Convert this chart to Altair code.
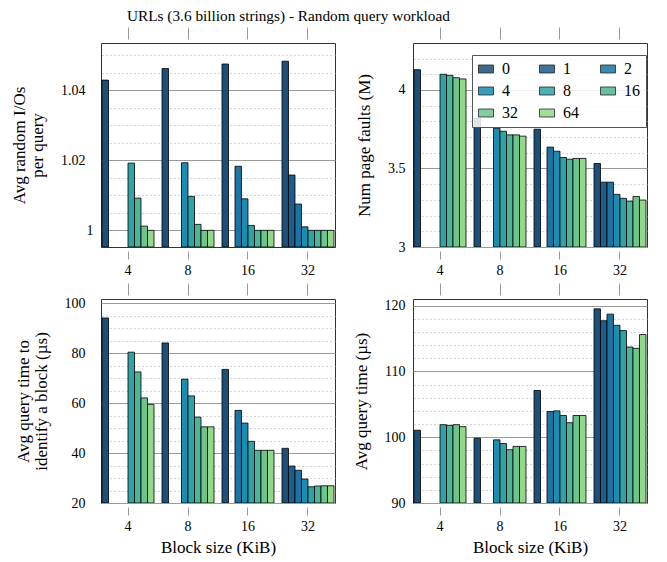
import altair as alt
import pandas as pd

FONT = "Liberation Serif"

block_sizes = ["4", "8", "16", "32"]
series = ["0", "1", "2", "4", "8", "16", "32", "64"]
colors = ["#1d4f79", "#1e5d8b", "#1b74a2", "#1a8db2",
          "#31a2a5", "#4fb597", "#6dc58e", "#91d88a"]

# one row per block size, one entry per series (None = not measured)
random_ios = [
    [1.0429, None, None, None, 1.0192, 1.0092, 1.0012, 1.0],
    [1.0462, None, None, 1.0193, 1.0097, 1.0017, 1.0, 1.0],
    [1.0475, None, 1.0183, 1.0090, 1.0014, 1.0, 1.0, 1.0],
    [1.0483, 1.0158, 1.0075, 1.0010, 1.0, 1.0, 1.0, 1.0],
]
page_faults = [
    [4.129, None, None, None, 4.100, 4.093, 4.078, 4.070],
    [3.818, None, None, 3.756, 3.737, 3.714, 3.714, 3.706],
    [3.750, None, 3.636, 3.610, 3.570, 3.559, 3.564, 3.564],
    [3.532, 3.413, 3.413, 3.335, 3.310, 3.292, 3.322, 3.299],
]
identify_time = [
    [94.1, None, None, None, 80.4, 72.5, 62.1, 59.5],
    [84.1, None, None, 69.6, 62.9, 54.4, 50.5, 50.5],
    [73.5, None, 57.1, 52.0, 44.7, 41.1, 41.1, 41.1],
    [41.9, 34.8, 33.1, 29.6, 26.5, 26.8, 26.9, 26.9],
]
query_time = [
    [101.06, None, None, None, 101.9, 101.8, 101.9, 101.6],
    [99.85, None, None, 99.6, 99.04, 98.1, 98.6, 98.6],
    [107.1, None, 103.9, 104.0, 103.3, 102.2, 103.3, 103.3],
    [119.5, 117.7, 118.7, 117.0, 116.2, 113.7, 113.5, 115.6],
]


def tidy(rows):
    records = []
    for block, row in zip(block_sizes, rows):
        for s, v in zip(series, row):
            if v is not None:
                records.append({"block": block, "series": s, "value": v})
    return pd.DataFrame(records)


def panel(rows, domain, major, minor, ytitle, xtitle=None, label_pad=16, legend=None):
    df = tidy(rows)
    x_scale = alt.Scale(domain=block_sizes, paddingInner=0.1333, paddingOuter=0.0167)
    y_scale = alt.Scale(domain=domain, nice=False, zero=False)
    base = alt.Chart(df)

    # invisible layer carrying the top tick marks and the dotted minor grid
    guides = base.mark_point(opacity=0, size=1).encode(
        x=alt.X("block:N", scale=x_scale, sort=block_sizes,
                axis=alt.Axis(orient="top", labels=False, domain=False, grid=False,
                              ticks=True, tickColor="#9a9a9a", tickSize=12, offset=4,
                              title=None)),
        y=alt.Y("value:Q", scale=y_scale,
                axis=alt.Axis(orient="right", values=minor, grid=True, gridDash=[1, 3],
                              gridColor="#a8a8a8", labels=False, ticks=False, tickSize=0,
                              domain=False, title=None)),
    )

    x_axis = dict(orient="bottom", domain=False, grid=False, ticks=True,
                  tickColor="#9a9a9a", tickSize=8, offset=4, labelPadding=4,
                  labelAngle=0)
    if xtitle:
        x_axis.update(title=xtitle, titlePadding=6)
    else:
        x_axis.update(title=None)

    # bars rise from the bottom of the value axis
    bars = base.mark_bar(stroke="black", strokeWidth=0.8, clip=True).encode(
        x=alt.X("block:N", scale=x_scale, sort=block_sizes, axis=alt.Axis(**x_axis)),
        xOffset=alt.XOffset("series:N",
                            scale=alt.Scale(domain=series, paddingInner=0, paddingOuter=0)),
        y=alt.Y("value:Q", scale=y_scale,
                axis=alt.Axis(orient="left", values=major, format="~r", grid=True,
                              gridColor="#9a9a9a", gridWidth=1, domain=False, ticks=False,
                              tickSize=0, labelPadding=label_pad, title=ytitle,
                              titlePadding=14, titleLineHeight=18)),
        y2=alt.datum(domain[0]),
        fill=alt.Fill("series:N", sort=series,
                      scale=alt.Scale(domain=series, range=colors),
                      legend=legend),
    )
    return (alt.layer(guides, bars)
            .resolve_axis(x="independent", y="independent")
            .properties(width=234, height=204))


legend = alt.Legend(
    orient="none", legendX=59, legendY=12, direction="horizontal", columns=3,
    title=None, gridAlign="all",
    symbolType="M-1,-0.533H1V0.533H-1Z", symbolSize=225,
    symbolStrokeColor="black", symbolStrokeWidth=0.8, symbolOpacity=0.85,
    labelFont=FONT, labelFontSize=16, labelColor="black", labelOffset=8,
    fillColor="rgba(255,255,255,0.85)", strokeColor="#555555",
    padding=6, columnPadding=19, rowPadding=6,
)

p1 = panel(random_ios, [0.99524, 1.0535], [1.0, 1.02, 1.04],
           [1.005, 1.01, 1.015, 1.025, 1.03, 1.035, 1.045, 1.05],
           ["Avg random I/Os", "per query"],
           label_pad={"condition": {"test": "datum.value == 1", "value": 8}, "value": 16})
p2 = panel(page_faults, [3.0, 4.299], [3.0, 3.5, 4.0],
           [3.1, 3.2, 3.3, 3.4, 3.6, 3.7, 3.8, 3.9, 4.1, 4.2],
           "Num page faults (M)", label_pad=8, legend=legend)
p3 = panel(identify_time, [20, 101.7], [20, 40, 60, 80, 100],
           [25, 30, 35, 45, 50, 55, 65, 70, 75, 85, 90, 95],
           ["Avg query time to", "identify a block (µs)"], xtitle="Block size (KiB)")
p4 = panel(query_time, [90, 121.0], [90, 100, 110, 120],
           [92, 94, 96, 98, 102, 104, 106, 108, 112, 114, 116, 118],
           "Avg query time (µs)", xtitle="Block size (KiB)", label_pad=8)

chart = (
    alt.concat(p1, p2, p3, p4, columns=2, spacing={"row": 52, "column": 78}, bounds="flush")
    .resolve_legend(fill="independent")
    .properties(
        title=alt.TitleParams(
            "URLs (3.6 billion strings) - Random query workload",
            anchor="start", frame="group", dx=26, offset=2,
            font=FONT, fontSize=15.3, fontWeight="normal", color="black",
        ),
        padding={"left": 10, "top": 8, "right": 5, "bottom": 5},
    )
    .configure_view(stroke="#333333", strokeWidth=1)
    .configure_axis(labelFont=FONT, titleFont=FONT, labelFontSize=14, titleFontSize=17,
                    titleFontWeight="normal", labelColor="black", titleColor="black")
)

chart.save("out.html", embed_options={"renderer": "svg", "actions": False})
